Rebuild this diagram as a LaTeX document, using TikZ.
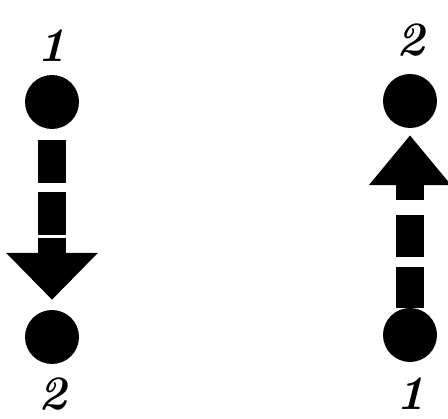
\documentclass[tikz,border=0pt]{standalone}
\usetikzlibrary{arrows.meta}
\begin{document}
\begin{tikzpicture}[x=1pt,y=-1pt,
  dot/.style={circle,fill=black,inner sep=0pt,minimum size=54pt},
  lbl/.style={inner sep=0pt,font=\fontsize{48}{48}\selectfont\itshape\bfseries},
  flow/.style={line width=28pt,-{Triangle[length=47pt,width=89pt]}}]
\useasboundingbox (0,0) rectangle (448,419);
% left
\node[dot] (a1) at (52,102) {};
\node[dot] (a2) at (52,337) {};
\node[lbl] (la1) at (52,46) {1};
\node[lbl] (la2) at (53,394) {2};
\draw[flow,dash pattern=on 43pt off 9pt on 43pt off 3pt on 40pt off 1pt,shorten <=11pt,shorten >=10pt] (a1) -- (a2);
% right
\node[dot] (b2) at (410,101) {};
\node[dot] (b1) at (410,335) {};
\node[lbl] (lb2) at (411,40) {2};
\node[lbl] (lb1) at (411,394) {1};
\draw[line width=28pt,-{Triangle[length=50pt,width=79pt]},dash pattern=on 41pt off 10pt on 42pt off 15pt on 40pt off 1pt,shorten <=0pt,shorten >=7pt] (b1) -- (b2);
\end{tikzpicture}
\end{document}
